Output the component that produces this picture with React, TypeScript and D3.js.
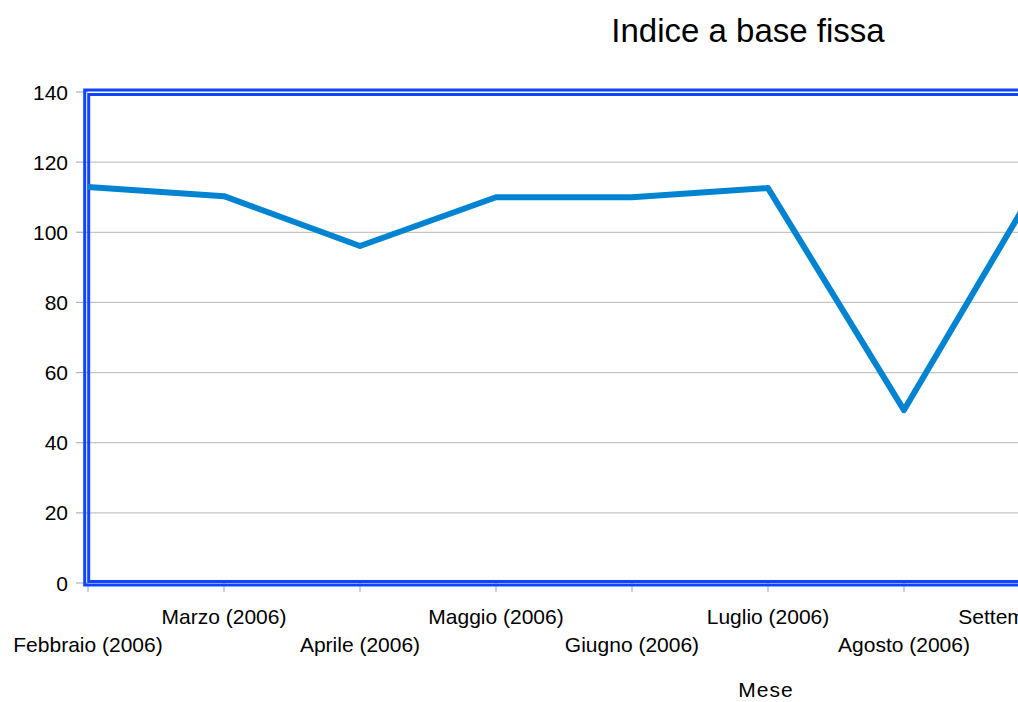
import React from 'react';
import * as d3 from 'd3';

// months on the category axis (the chart is cut off on the right of the page)
const months = [
  'Febbraio (2006)', 'Marzo (2006)', 'Aprile (2006)', 'Maggio (2006)',
  'Giugno (2006)', 'Luglio (2006)', 'Agosto (2006)', 'Settembre (2006)',
];
// index values
const indexValues = [112.9, 110.3, 96.1, 110, 110, 112.6, 49.3, 115];
const yTicks = [0, 20, 40, 60, 80, 100, 120, 140];

const W = 1018;
const H = 702;
const font = '"Liberation Sans", Arial, sans-serif';

const App = () => {
  const left = 88;
  const step = 136;
  const x = d3.scalePoint<string>()
    .domain(months)
    .range([left, left + step * (months.length - 1)]);
  // plot area keeps going past the page edge
  const right = left + step * (months.length + 1);

  const y = d3.scaleLinear().domain([0, 140]).range([583, 92]);

  const line = d3.line<number>()
    .x((_, i) => x(months[i]) as number)
    .y(d => y(d));

  const top = y(140);
  const bottom = y(0);

  return (
    <svg width={W} height={H} style={{ position: 'absolute', left: 0, top: 0, background: '#fff' }}
      fontFamily={font}>
      {/* title */}
      <text x={748} y={42} textAnchor="middle" fontSize={33}>Indice a base fissa</text>

      {/* horizontal gridlines */}
      {yTicks.filter(t => t > 0 && t < 140).map(t => (
        <line key={t} x1={left} x2={right} y1={y(t)} y2={y(t)} stroke="#c4c4c4" strokeWidth={1.2} />
      ))}

      {/* y axis ticks + labels */}
      {yTicks.map(t => (
        <g key={'y' + t}>
          <line x1={76} x2={left} y1={y(t)} y2={y(t)} stroke="#b3b3b3" strokeWidth={1.2} />
          <text x={68} y={y(t)} dy="0.36em" textAnchor="end" fontSize={21}>{t}</text>
        </g>
      ))}

      {/* x axis ticks + staggered labels */}
      {months.map((m, i) => (
        <g key={m}>
          <line x1={x(m)} x2={x(m)} y1={bottom} y2={bottom + 9} stroke="#b3b3b3" strokeWidth={1.2} />
          <text x={x(m)} y={i % 2 === 0 ? 652 : 624} textAnchor="middle" fontSize={21}>{m}</text>
        </g>
      ))}

      {/* double blue frame around the plot area */}
      <rect x={left - 3.3} y={top - 2} width={right - left + 7} height={bottom - top + 4}
        fill="none" stroke="#0f45ff" strokeWidth={3} />
      <rect x={left + 0.7} y={top + 2.5} width={right - left - 2} height={bottom - top - 4}
        fill="none" stroke="#0f45ff" strokeWidth={3} />

      {/* data line */}
      <path d={line(indexValues) ?? ''} fill="none" stroke="#0084d1" strokeWidth={6}
        strokeLinejoin="round" />

      {/* axis title */}
      <text x={766} y={697} textAnchor="middle" fontSize={21} letterSpacing={1}>Mese</text>
    </svg>
  );
};

export default App;
